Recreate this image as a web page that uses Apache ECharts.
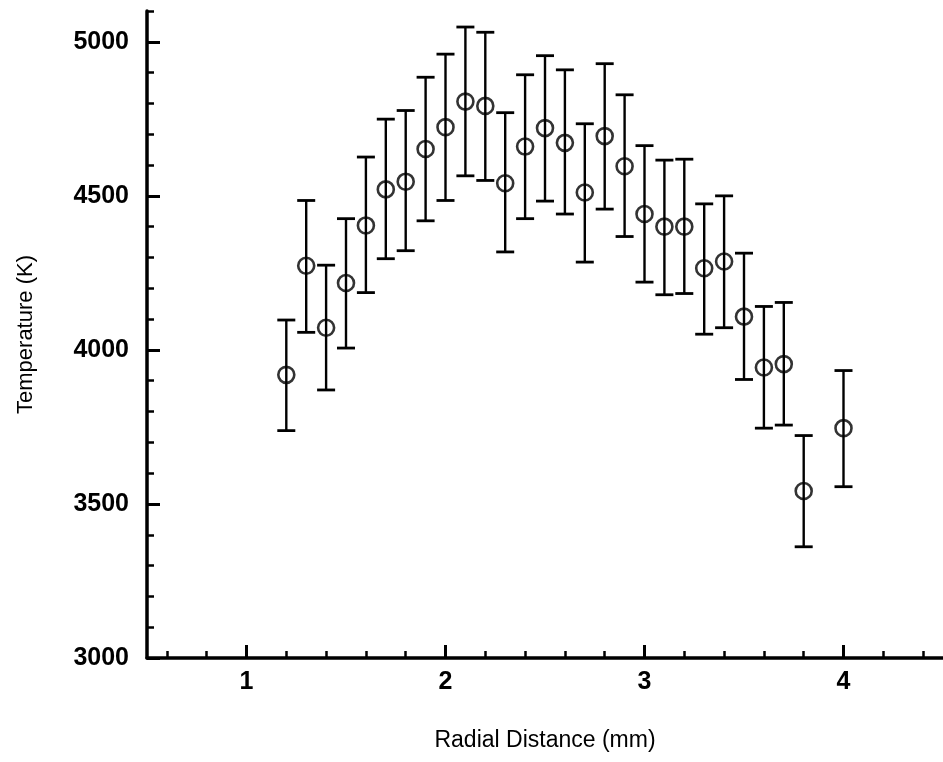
<!DOCTYPE html>
<html><head><meta charset="utf-8">
<script src="https://cdn.jsdelivr.net/npm/echarts@6/dist/echarts.min.js"></script>
<style>html,body{margin:0;padding:0;background:#fff}#c{width:943px;height:762px}</style>
</head><body><div id="c"></div>
<script>
const radius = [1.2,1.3,1.4,1.5,1.6,1.7,1.8,1.9,2.0,2.1,2.2,2.3,2.4,2.5,2.6,2.7,2.8,2.9,3.0,3.1,3.2,3.3,3.4,3.5,3.6,3.7,3.8,4.0];
const temperature = [3919,4273,4072,4217,4404,4521,4546,4652,4723,4806,4792,4541,4660,4720,4672,4511,4694,4596,4441,4400,4400,4265,4287,4108,3943,3954,3542,3746];
const upperBound = [4097,4485,4275,4426,4626,4749,4777,4885,4960,5048,5031,4770,4893,4955,4909,4734,4929,4828,4663,4616,4619,4474,4500,4314,4141,4154,3722,3933];
const lowerBound = [3738,4057,3870,4006,4186,4296,4322,4419,4485,4565,4550,4318,4426,4483,4441,4285,4457,4368,4220,4179,4183,4051,4072,3904,3746,3756,3361,3556];
const xMajorTicks = [1,2,3,4];
const xMinorTicks = [0.6,0.8,1.2,1.4,1.6,1.8,2.2,2.4,2.6,2.8,3.2,3.4,3.6,3.8,4.2,4.4];
const yMajorTicks = [3000,3500,4000,4500,5000];
const yMinorTicks = [3100,3200,3300,3400,3600,3700,3800,3900,4100,4200,4300,4400,4600,4700,4800,4900,5100];
const xTitle = 'Radial Distance (mm)';
const yTitle = 'Temperature (K)';

const FONT = '"Liberation Sans", Arial, Helvetica, sans-serif';
const chart = echarts.init(document.getElementById('c'), null, {renderer: 'canvas'});
const errData = radius.map((x, i) => [x, lowerBound[i], upperBound[i]]);
const ptData = radius.map((x, i) => [x, temperature[i]]);

const labelStyle = {color: '#000', fontFamily: FONT, fontWeight: 'bold', fontSize: 25};

chart.setOption({
  animation: false,
  backgroundColor: '#fff',
  grid: {left: 147, right: -3, top: 11, bottom: 104, containLabel: false},
  xAxis: [{
    type: 'value', min: 0.5, max: 4.5, position: 'bottom',
    name: xTitle, nameLocation: 'middle', nameGap: 71,
    nameTextStyle: {color: '#000', fontFamily: FONT, fontSize: 23},
    axisLine: {show: true, lineStyle: {color: '#000', width: 3.5}},
    axisTick: {show: true, inside: true, length: 13, lineStyle: {color: '#000', width: 3}, customValues: xMajorTicks},
    axisLabel: Object.assign({show: true, margin: 12, customValues: xMajorTicks, formatter: v => String(v)}, labelStyle),
    splitLine: {show: false}
  }, {
    type: 'value', min: 0.5, max: 4.5, position: 'bottom', offset: 0,
    axisLine: {show: false},
    axisTick: {show: true, inside: true, length: 7, lineStyle: {color: '#000', width: 2.5}, customValues: xMinorTicks},
    axisLabel: {show: false},
    splitLine: {show: false}
  }],
  yAxis: [{
    type: 'value', min: 3000, max: 5100, position: 'left',
    name: yTitle, nameLocation: 'middle', nameGap: 110, nameRotate: 90,
    nameTextStyle: {color: '#000', fontFamily: FONT, fontSize: 22},
    axisLine: {show: true, lineStyle: {color: '#000', width: 3.5}},
    axisTick: {show: true, inside: true, length: 13, lineStyle: {color: '#000', width: 3}, customValues: yMajorTicks},
    axisLabel: Object.assign({show: true, margin: 18, customValues: yMajorTicks, formatter: v => String(v)}, labelStyle),
    splitLine: {show: false}
  }, {
    type: 'value', min: 3000, max: 5100, position: 'left', offset: 0,
    axisLine: {show: false},
    axisTick: {show: true, inside: true, length: 7, lineStyle: {color: '#000', width: 2.5}, customValues: yMinorTicks},
    axisLabel: {show: false},
    splitLine: {show: false}
  }],
  series: [{
    type: 'custom',
    xAxisIndex: 0, yAxisIndex: 0,
    data: errData,
    renderItem: function (params, api) {
      const x = api.value(0);
      const lo = api.coord([x, api.value(1)]);
      const hi = api.coord([x, api.value(2)]);
      const half = 9;
      return {
        type: 'group',
        children: [
          {type: 'line', shape: {x1: lo[0], y1: lo[1], x2: hi[0], y2: hi[1]}, style: {stroke: '#000', lineWidth: 2.4}},
          {type: 'line', shape: {x1: hi[0] - half, y1: hi[1], x2: hi[0] + half, y2: hi[1]}, style: {stroke: '#000', lineWidth: 2.8}},
          {type: 'line', shape: {x1: lo[0] - half, y1: lo[1], x2: lo[0] + half, y2: lo[1]}, style: {stroke: '#000', lineWidth: 2.8}}
        ]
      };
    },
    z: 2
  }, {
    type: 'scatter',
    xAxisIndex: 0, yAxisIndex: 0,
    data: ptData,
    symbol: 'circle',
    symbolSize: 16,
    itemStyle: {color: 'rgba(0,0,0,0)', borderColor: '#000', borderWidth: 2.6},
    z: 3
  }]
});
</script>
</body></html>
